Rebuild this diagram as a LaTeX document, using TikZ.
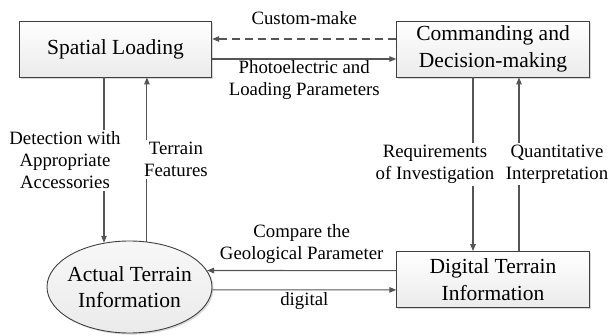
\documentclass[tikz,border=0pt]{standalone}
\usepackage{fontspec}
\setmainfont{Liberation Serif}
\usetikzlibrary{arrows.meta,shapes.geometric,shadows}
\definecolor{framegray}{HTML}{404040}
\definecolor{wiregray}{HTML}{555555}

\begin{document}
\begin{tikzpicture}[x=1pt,y=1pt,
  box/.style={draw=framegray,line width=0.9pt,top color=white,bottom color=gray!16,
    drop shadow={shadow xshift=1.6pt,shadow yshift=-1.6pt,opacity=0.3},
    minimum width=192.5pt,minimum height=56pt,inner sep=0pt,align=center,
    font=\fontsize{21.5}{27}\selectfont},
  blob/.style={ellipse,draw=framegray,line width=0.9pt,top color=gray!6,bottom color=gray!16,
    drop shadow={shadow xshift=1.6pt,shadow yshift=-1.6pt,opacity=0.3},
    minimum width=165pt,minimum height=92pt,inner xsep=-12pt,inner ysep=0pt,align=center,
    font=\fontsize{21.5}{26}\selectfont},
  wire/.style={draw=wiregray,line width=1.1pt,-{Triangle[length=7pt,width=5.5pt]}},
  lbl/.style={font=\fontsize{18.8}{22}\selectfont,align=center,inner sep=1pt},
  cover/.style={lbl,fill=white,inner sep=2pt}]
\useasboundingbox (0,0) rectangle (611,335);
\node[box] (spatial) at (115.5,286) {Spatial Loading};
\node[box] (cmd) at (493,286) {Commanding and\\Decision-making};
\node[box] (digital) at (493,55.5) {Digital Terrain\\Information};
\node[blob] (actual) at (129.5,48) {Actual Terrain\\Information};
\draw[wire,dash pattern=on 8pt off 5pt] ([yshift=10pt]cmd.west) -- ([yshift=10pt]spatial.east)
  node[lbl,midway,yshift=21pt] {Custom-make};
\draw[wire] ([yshift=-10pt]spatial.east) -- ([yshift=-10pt]cmd.west)
  node[lbl,midway,yshift=-21pt] {Photoelectric and\\Loading Parameters};
\draw[wire] (actual.120 |- spatial.south) -- (actual.120)
  node[cover,midway,xshift=-39pt] {Detection with\\Appropriate\\Accessories};
\draw[wire] (actual.69) -- (actual.69 |- spatial.south)
  node[cover,midway,xshift=29pt] {Terrain\\Features};
\draw[wire] ([xshift=-20pt]cmd.south) -- ([xshift=-20pt]digital.north)
  node[cover,midway,xshift=-38pt] {Requirements\\of Investigation};
\draw[wire] ([xshift=26pt]digital.north) -- ([xshift=26pt]cmd.south)
  node[cover,midway,xshift=38pt] {Quantitative\\Interpretation};
\draw[wire] ([yshift=8.9pt]digital.west) -- (actual.12)
  node[lbl,midway,yshift=27pt] {Compare the\\Geological Parameter};
\draw[wire] (actual.358) -- ([yshift=-10.4pt]digital.west)
  node[lbl,midway,yshift=-11pt] {digital};
\end{tikzpicture}
\end{document}
